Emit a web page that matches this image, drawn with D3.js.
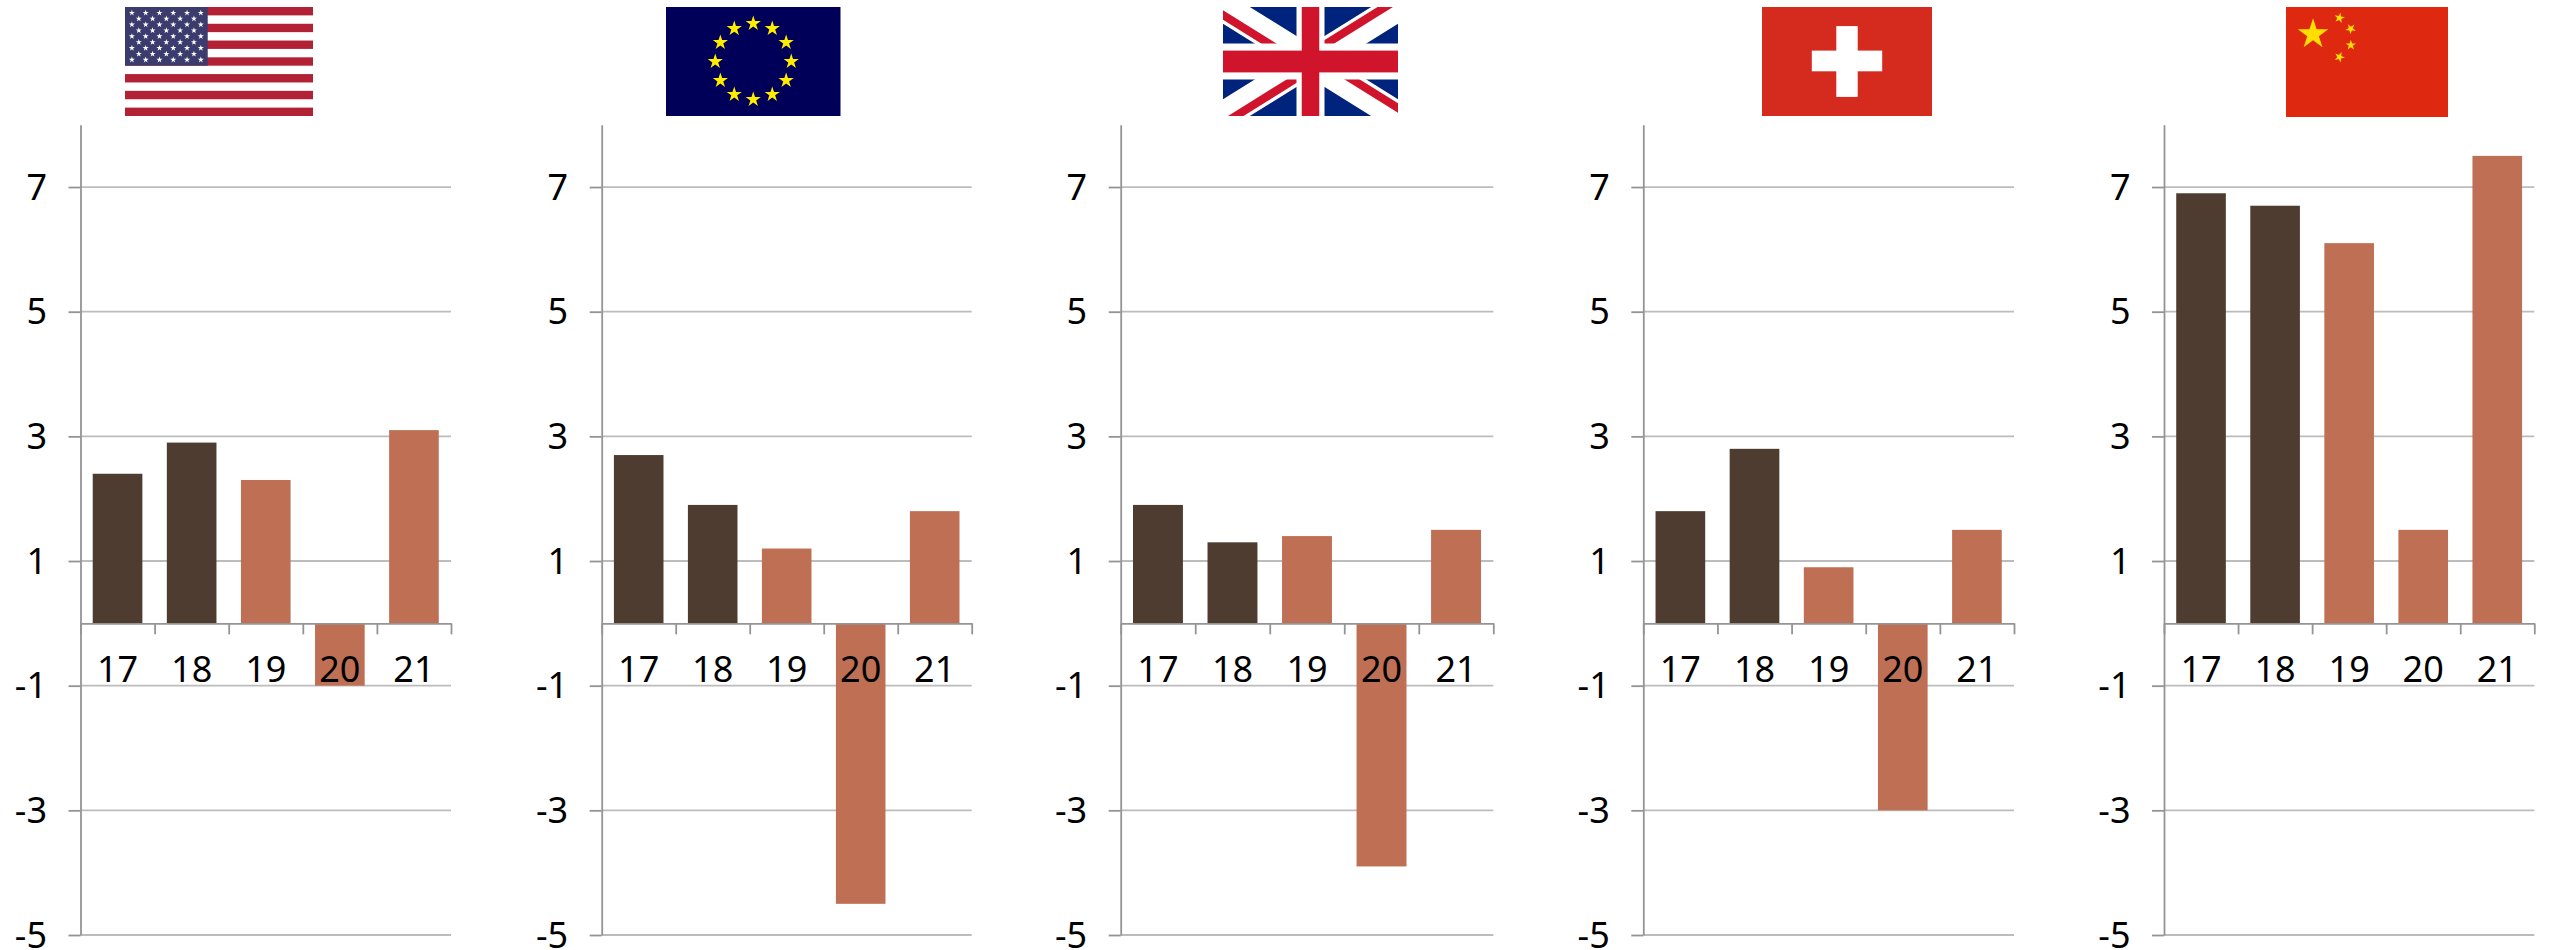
<!DOCTYPE html>
<html>
<head>
<meta charset="utf-8">
<script src="https://cdn.jsdelivr.net/npm/d3@7"></script>
<style>
  html, body { margin: 0; padding: 0; background: #fff; }
  svg { display: block; }
  text { font-family: "Noto Sans", "Open Sans", sans-serif; fill: #000; }
</style>
</head>
<body>
<svg id="chart" width="2549" height="950"></svg>
<script>
// Annual GDP growth, % — actual years and forecasts
const years = ["17", "18", "19", "20", "21"];
const usValues = [2.4, 2.9, 2.3, -1.0, 3.1];
const euValues = [2.7, 1.9, 1.2, -4.5, 1.8];
const ukValues = [1.9, 1.3, 1.4, -3.9, 1.5];
const chValues = [1.8, 2.8, 0.9, -3.0, 1.5];
const cnValues = [6.9, 6.7, 6.1, 1.5, 7.5];
const yTicks = [-5, -3, -1, 1, 3, 5, 7];
const yDomain = [-5, 8];
const actualYears = ["17", "18"];

const seriesList = [usValues, euValues, ukValues, chValues, cnValues];
const flagNames = ["us", "eu", "uk", "ch", "cn"];

// Horizontal extent of each small multiple
const panelLeft = [80.5, 601.7, 1120.7, 1643.3, 2164];
const panelRight = [451, 971.7, 1493.3, 2014, 2534.3];
// Flag boxes: left, right
const flagLeft = [125, 666, 1223, 1762, 2286];
const flagRight = [313, 840.5, 1398, 1932, 2448];

const plotTop = 124.7, plotBottom = 935;
const flagTop = 7, flagBottom = 116;
const colActual = "#4f3c30", colForecast = "#bf7054";
const colAxis = "#949494", colGrid = "#bcbcbc";

const svg = d3.select("#chart");
const y = d3.scaleLinear().domain(yDomain).range([plotBottom, plotTop]);

function starPath(cx, cy, r, rot = 0) {
  const pts = d3.range(10).map(i => {
    const a = -Math.PI / 2 + rot + i * Math.PI / 5;
    const rad = i % 2 ? r * 0.382 : r;
    return [cx + rad * Math.cos(a), cy + rad * Math.sin(a)];
  });
  return "M" + pts.map(p => p.join(",")).join("L") + "Z";
}

const flagPainters = {
  us(g, w, h) {
    const sh = h / 13;
    g.append("rect").attr("width", w).attr("height", h).attr("fill", "#fff");
    g.selectAll(".stripe").data(d3.range(0, 13, 2)).join("rect")
      .attr("y", d => d * sh).attr("width", w).attr("height", sh).attr("fill", "#b22234");
    const cw = w * 0.44, ch = sh * 7;
    g.append("rect").attr("width", cw).attr("height", ch).attr("fill", "#3c3b6e");
    const stars = [];
    for (let r = 0; r < 9; r++) {
      const n = r % 2 ? 5 : 6;
      for (let c = 0; c < n; c++) {
        stars.push([cw * (r % 2 ? 2 + 2 * c : 1 + 2 * c) / 12, ch * (r + 1) / 10]);
      }
    }
    g.selectAll(".star").data(stars).join("path")
      .attr("d", d => starPath(d[0], d[1], 3.2)).attr("fill", "#fff");
  },
  eu(g, w, h) {
    g.append("rect").attr("width", w).attr("height", h).attr("fill", "#000058");
    const r = 38;
    g.selectAll(".star").data(d3.range(12)).join("path")
      .attr("d", i => starPath(w / 2 + r * Math.sin(i * Math.PI / 6),
                               h / 2 - r * Math.cos(i * Math.PI / 6), 8))
      .attr("fill", "#ffed00");
  },
  uk(g, w, h) {
    g.append("rect").attr("width", w).attr("height", h).attr("fill", "#00247d");
    const clip = g.append("clipPath").attr("id", "ukclip");
    clip.append("rect").attr("width", w).attr("height", h);
    const inner = g.append("g").attr("clip-path", "url(#ukclip)");
    inner.append("path")
      .attr("d", `M0,0L${w},${h}M${w},0L0,${h}`)
      .attr("stroke", "#fff").attr("stroke-width", h * 0.26).attr("fill", "none");
    // Counterchanged red saltire, offset from each diagonal
    const off = h * 0.045;
    inner.append("path")
      .attr("d", `M${-off},${off}L${w / 2 - off},${h / 2 + off}
                  M${w / 2 + off},${h / 2 - off}L${w + off},${h - off}
                  M${w - off},${-off}L${w / 2 - off},${h / 2 - off}
                  M${w / 2 + off},${h / 2 + off}L${off},${h + off}`)
      .attr("stroke", "#cf142b").attr("stroke-width", h * 0.075).attr("fill", "none");
    g.append("rect").attr("x", w * 0.42).attr("width", w * 0.16).attr("height", h).attr("fill", "#fff");
    g.append("rect").attr("y", h * 0.335).attr("width", w).attr("height", h * 0.33).attr("fill", "#fff");
    g.append("rect").attr("x", w * 0.45).attr("width", w * 0.1).attr("height", h).attr("fill", "#cf142b");
    g.append("rect").attr("y", h * 0.4).attr("width", w).attr("height", h * 0.2).attr("fill", "#cf142b");
  },
  ch(g, w, h) {
    g.append("rect").attr("width", w).attr("height", h).attr("fill", "#d52b1e");
    g.append("rect").attr("x", w * 0.437).attr("y", h * 0.175)
      .attr("width", w * 0.126).attr("height", h * 0.65).attr("fill", "#fff");
    g.append("rect").attr("x", w * 0.293).attr("y", h * 0.4)
      .attr("width", w * 0.414).attr("height", h * 0.19).attr("fill", "#fff");
  },
  cn(g, w, h) {
    g.append("rect").attr("width", w).attr("height", h + 1).attr("fill", "#de2910");
    g.append("path").attr("d", starPath(w * 0.167, h * 0.25, 16)).attr("fill", "#ffde00");
    [[0.33, 0.1, 0.2], [0.4, 0.2, 0.7], [0.4, 0.35, 0], [0.33, 0.46, 0.4]].forEach(s => {
      g.append("path").attr("d", starPath(w * s[0], h * s[1], 5.5, s[2])).attr("fill", "#ffde00");
    });
  }
};

seriesList.forEach((values, i) => {
  const x0 = panelLeft[i], x1 = panelRight[i];
  const panel = svg.append("g").attr("class", "panel");
  const rows = years.map((yr, k) => ({ yr, v: values[k] }));

  const x = d3.scaleBand().domain(years).range([x0, x1])
    .paddingInner(0.33).paddingOuter(0.165);
  const edges = d3.scaleLinear().domain([0, years.length]).range([x0, x1]);

  // Gridlines
  panel.append("g").selectAll("line").data(yTicks).join("line")
    .attr("x1", x0).attr("x2", x1)
    .attr("y1", d => y(d)).attr("y2", d => y(d))
    .attr("stroke", colGrid).attr("stroke-width", 1.8);

  // Bars
  panel.append("g").selectAll("rect").data(rows).join("rect")
    .attr("x", d => x(d.yr)).attr("width", x.bandwidth())
    .attr("y", d => y(Math.max(0, d.v)))
    .attr("height", d => Math.abs(y(d.v) - y(0)))
    .attr("fill", d => actualYears.includes(d.yr) ? colActual : colForecast);

  // Value axis
  const yAxis = panel.append("g").attr("transform", `translate(${x0},0)`)
    .call(d3.axisLeft(y).tickValues(yTicks).tickFormat(String).tickSize(12).tickPadding(21.5).tickSizeOuter(0));
  yAxis.selectAll("text").style("font-size", "36px").attr("dy", "0.34em");
  yAxis.selectAll("line, path").attr("stroke", colAxis).attr("stroke-width", 1.8);

  // Zero line with ticks between the categories
  const zero = panel.append("g").attr("transform", `translate(0,${y(0)})`)
    .call(d3.axisBottom(edges).tickValues(d3.range(years.length + 1)).tickFormat("").tickSize(11).tickSizeOuter(0));
  zero.selectAll("line, path").attr("stroke", colAxis).attr("stroke-width", 1.8);

  // Year labels sit just under the zero line, on top of any negative bar
  const labels = panel.append("g").attr("transform", `translate(0,${y(0)})`)
    .call(d3.axisBottom(x).tickSize(0).tickPadding(33.4));
  labels.select(".domain").remove();
  labels.selectAll("text").style("font-size", "36px");

  // Flag heading
  const w = flagRight[i] - flagLeft[i], h = flagBottom - flagTop;
  const flag = svg.append("g").attr("class", "flag")
    .attr("transform", `translate(${flagLeft[i]},${flagTop})`);
  flagPainters[flagNames[i]](flag, w, h);
});
</script>
</body>
</html>
